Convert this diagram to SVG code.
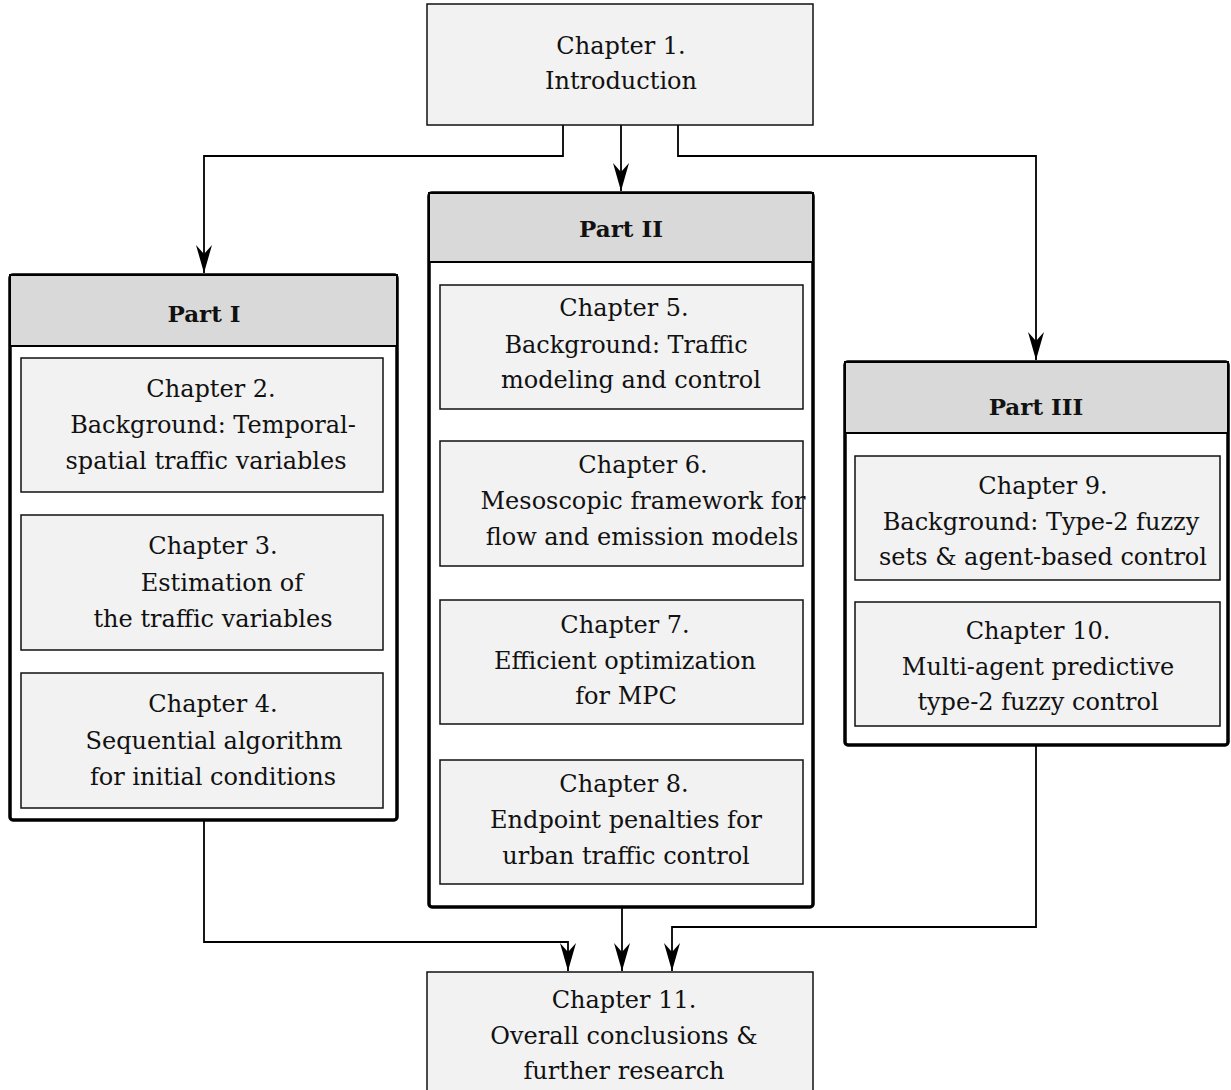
<svg xmlns="http://www.w3.org/2000/svg" width="1231" height="1090" viewBox="0 0 1231 1090">
<defs>
<style>
.t{font-family:"DejaVu Serif","Liberation Serif",serif;font-size:24px;fill:#111;text-anchor:middle}
.h{font-family:"DejaVu Serif","Liberation Serif",serif;font-size:23px;font-weight:bold;fill:#111;text-anchor:middle}
.ch{fill:#f2f2f2;stroke:#111;stroke-width:1.5}
.part{fill:#fff;stroke:#000;stroke-width:3.5}
.hdr{fill:#d9d9d9;stroke:#000;stroke-width:2}
.c{fill:none;stroke:#000;stroke-width:1.8}
</style>
<marker id="ar" viewBox="0 0 28 16" refX="28" refY="8" markerWidth="28" markerHeight="16" markerUnits="userSpaceOnUse" orient="auto">
<path d="M0,0 L9,8 L0,16 L28,8 Z" fill="#000"/>
</marker>
</defs>
<g id="connectors">
<path class="c" d="M563,125 V156 H204 V273" marker-end="url(#ar)"/>
<path class="c" d="M621,125 V191" marker-end="url(#ar)"/>
<path class="c" d="M678,125 V156 H1036 V360" marker-end="url(#ar)"/>
<path class="c" d="M204,820 V942 H568 V971" marker-end="url(#ar)"/>
<path class="c" d="M622,907 V971" marker-end="url(#ar)"/>
<path class="c" d="M1036,745 V927 H672 V971" marker-end="url(#ar)"/>
</g>
<g id="ch1">
<rect class="ch" x="427" y="4" width="386" height="121"/>
<text class="t" x="621" y="54">Chapter 1.</text>
<text class="t" x="621" y="89">Introduction</text>
</g>
<g id="part1">
<rect class="part" x="10" y="275" width="387" height="545" rx="3"/>
<rect class="hdr" x="10" y="275" width="387" height="71"/>
<text class="h" x="204" y="322">Part I</text>
</g>
<g id="ch2">
<rect class="ch" x="21" y="358" width="362" height="134"/>
<text class="t" x="211" y="397">Chapter 2.</text>
<text class="t" x="213" y="433">Background: Temporal-</text>
<text class="t" x="206" y="469">spatial traffic variables</text>
</g>
<g id="ch3">
<rect class="ch" x="21" y="515" width="362" height="135"/>
<text class="t" x="213" y="554">Chapter 3.</text>
<text class="t" x="222" y="591">Estimation of</text>
<text class="t" x="213" y="627">the traffic variables</text>
</g>
<g id="ch4">
<rect class="ch" x="21" y="673" width="362" height="135"/>
<text class="t" x="213" y="712">Chapter 4.</text>
<text class="t" x="214" y="749">Sequential algorithm</text>
<text class="t" x="213" y="785">for initial conditions</text>
</g>
<g id="part2">
<rect class="part" x="429" y="193" width="384" height="714" rx="3"/>
<rect class="hdr" x="429" y="193" width="384" height="69"/>
<text class="h" x="621" y="237">Part II</text>
</g>
<g id="ch5">
<rect class="ch" x="440" y="285" width="363" height="124"/>
<text class="t" x="624" y="316">Chapter 5.</text>
<text class="t" x="626" y="353">Background: Traffic</text>
<text class="t" x="631" y="388">modeling and control</text>
</g>
<g id="ch6">
<rect class="ch" x="440" y="441" width="363" height="125"/>
<text class="t" x="643" y="473">Chapter 6.</text>
<text class="t" x="643" y="509">Mesoscopic framework for</text>
<text class="t" x="642" y="545">flow and emission models</text>
</g>
<g id="ch7">
<rect class="ch" x="440" y="600" width="363" height="124"/>
<text class="t" x="625" y="633">Chapter 7.</text>
<text class="t" x="625" y="669">Efficient optimization</text>
<text class="t" x="626" y="704">for MPC</text>
</g>
<g id="ch8">
<rect class="ch" x="440" y="760" width="363" height="124"/>
<text class="t" x="624" y="792">Chapter 8.</text>
<text class="t" x="626" y="828">Endpoint penalties for</text>
<text class="t" x="626" y="864">urban traffic control</text>
</g>
<g id="part3">
<rect class="part" x="845" y="362" width="383" height="383" rx="3"/>
<rect class="hdr" x="845" y="362" width="383" height="71"/>
<text class="h" x="1036" y="415">Part III</text>
</g>
<g id="ch9">
<rect class="ch" x="855" y="456" width="365" height="124"/>
<text class="t" x="1043" y="494">Chapter 9.</text>
<text class="t" x="1041" y="530">Background: Type-2 fuzzy</text>
<text class="t" x="1043" y="565">sets &amp; agent-based control</text>
</g>
<g id="ch10">
<rect class="ch" x="855" y="602" width="365" height="124"/>
<text class="t" x="1038" y="639">Chapter 10.</text>
<text class="t" x="1038" y="675">Multi-agent predictive</text>
<text class="t" x="1038" y="710">type-2 fuzzy control</text>
</g>
<g id="ch11">
<rect class="ch" x="427" y="972" width="386" height="130"/>
<text class="t" x="624" y="1008">Chapter 11.</text>
<text class="t" x="624" y="1044">Overall conclusions &amp;</text>
<text class="t" x="624" y="1079">further research</text>
</g>
</svg>
